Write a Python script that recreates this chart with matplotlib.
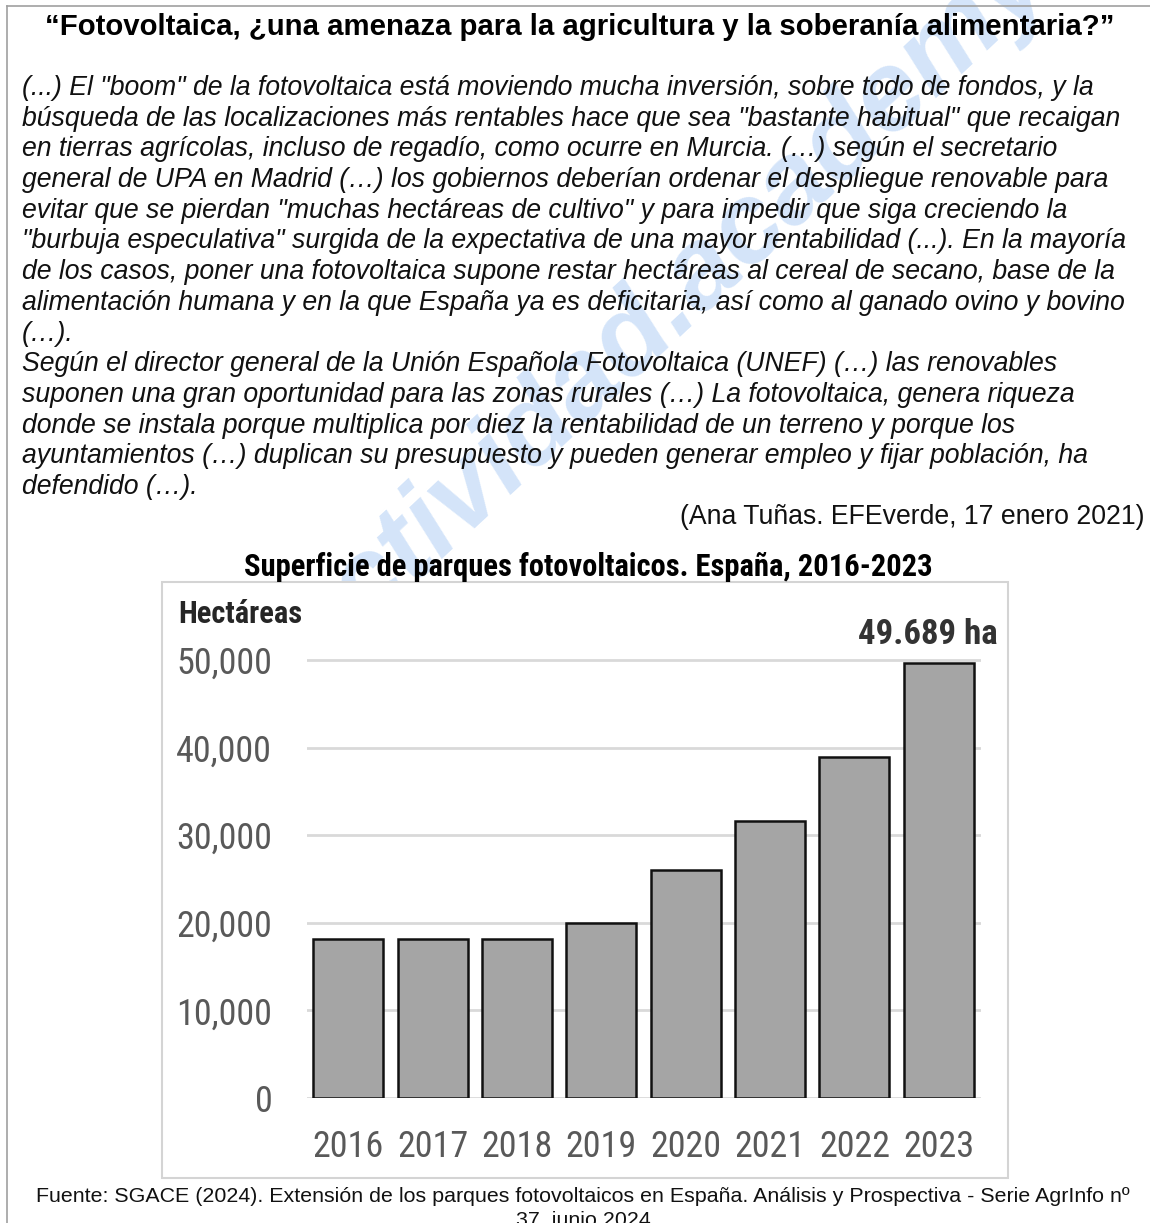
import matplotlib
matplotlib.use("Agg")
import matplotlib.pyplot as plt
from matplotlib import font_manager
from matplotlib.patches import Rectangle
from matplotlib.lines import Line2D

# chart data
years = ["2016", "2017", "2018", "2019", "2020", "2021", "2022", "2023"]
hectares = [18100, 18100, 18100, 20000, 26000, 31600, 38900, 49689]
y_ticks = [0, 10000, 20000, 30000, 40000, 50000]
y_tick_labels = ["0", "10,000", "20,000", "30,000", "40,000", "50,000"]

title = "\u201cFotovoltaica, \u00bfuna amenaza para la agricultura y la soberan\u00eda alimentaria?\u201d"
body_lines = [
    '(...) El "boom" de la fotovoltaica est\u00e1 moviendo mucha inversi\u00f3n, sobre todo de fondos, y la',
    'b\u00fasqueda de las localizaciones m\u00e1s rentables hace que sea "bastante habitual" que recaigan',
    'en tierras agr\u00edcolas, incluso de regad\u00edo, como ocurre en Murcia. (\u2026) seg\u00fan el secretario',
    'general de UPA en Madrid (\u2026) los gobiernos deber\u00edan ordenar el despliegue renovable para',
    'evitar que se pierdan "muchas hect\u00e1reas de cultivo" y para impedir que siga creciendo la',
    '"burbuja especulativa" surgida de la expectativa de una mayor rentabilidad (...). En la mayor\u00eda',
    'de los casos, poner una fotovoltaica supone restar hect\u00e1reas al cereal de secano, base de la',
    'alimentaci\u00f3n humana y en la que Espa\u00f1a ya es deficitaria, as\u00ed como al ganado ovino y bovino',
    '(\u2026).',
    'Seg\u00fan el director general de la Uni\u00f3n Espa\u00f1ola Fotovoltaica (UNEF) (\u2026) las renovables',
    'suponen una gran oportunidad para las zonas rurales (\u2026) La fotovoltaica, genera riqueza',
    'donde se instala porque multiplica por diez la rentabilidad de un terreno y porque los',
    'ayuntamientos (\u2026) duplican su presupuesto y pueden generar empleo y fijar poblaci\u00f3n, ha',
    'defendido (\u2026).',
]
citation = "(Ana Tu\u00f1as. EFEverde, 17 enero 2021)"
chart_title = "Superficie de parques fotovoltaicos. Espa\u00f1a, 2016-2023"
source_lines = [
    "Fuente: SGACE (2024). Extensi\u00f3n de los parques fotovoltaicos en Espa\u00f1a. An\u00e1lisis y Prospectiva - Serie AgrInfo n\u00ba",
    "37, junio 2024",
]

W, H = 1150, 1223
DPI = 100

fonts = font_manager.fontManager.ttflist
names = {f.name for f in fonts}
bold_names = {f.name for f in fonts if f.weight in (700, "bold")}
NARROW = "Liberation Sans"
for cand in ["Liberation Sans Narrow", "Archivo Narrow", "Roboto Condensed",
             "Fira Sans Extra Condensed", "Barlow Semi Condensed", "Asap Condensed"]:
    if cand in names and cand in bold_names:
        NARROW = cand
        break
SANS = "Liberation Sans" if "Liberation Sans" in names else "DejaVu Sans"


def fy(py):
    return 1 - py / H


def fx(px):
    return px / W


fig = plt.figure(figsize=(W / DPI, H / DPI), dpi=DPI)
fig.patch.set_facecolor("white")

# watermark, partly hidden behind the chart box
fig.text(fx(668), fy(308), "actividad.academy", ha="center", va="center",
         rotation=43, fontsize=81, fontweight="bold", style="italic",
         family=SANS, color="#3a86e6", alpha=0.22, zorder=0)

# page border (top and left)
fig.add_artist(Line2D([fx(7), 1], [fy(6), fy(6)], color="#a0a0a0", lw=1.2))
fig.add_artist(Line2D([fx(7), fx(7)], [fy(6), 0], color="#a0a0a0", lw=1.2))

fig.text(fx(580), fy(27), title, ha="center", va="center",
         fontsize=21.2, fontweight="bold", family=SANS)

for i, line in enumerate(body_lines):
    fig.text(fx(22), fy(88 + i * 30.7), line, ha="left", va="center",
             fontsize=19.2, style="italic", family=SANS, color="#111111")

fig.text(fx(1145), fy(517), citation, ha="right", va="center",
         fontsize=19.2, family=SANS, color="#111111")

fig.text(fx(588), fy(567), chart_title, ha="center", va="center",
         fontsize=22, fontweight="bold", family=NARROW)

# chart frame (opaque, covers the watermark)
fig.add_artist(Rectangle((fx(162), fy(1178)), fx(1008) - fx(162), fy(582) - fy(1178),
                         facecolor="white", edgecolor="#d4d4d4", lw=1.5, zorder=1))

ax = fig.add_axes([fx(307), fy(1098), fx(981) - fx(307), fy(642.5) - fy(1098)])
ax.set_zorder(2)
ax.patch.set_alpha(0)
ax.bar(range(len(years)), hectares, width=0.83, color="#a5a5a5",
       edgecolor="#111111", linewidth=1.8, zorder=3)
ax.set_xlim(-0.49, 7.5)
ax.set_ylim(0, 52000)
ax.set_yticks(y_ticks)
ax.set_yticklabels(y_tick_labels)
ax.set_xticks(range(len(years)))
ax.set_xticklabels(years)
ax.yaxis.grid(True, color="#d9d9d9", lw=2)
ax.set_axisbelow(True)
for s in ax.spines.values():
    s.set_visible(False)
ax.tick_params(length=0)
ax.tick_params(axis="y", pad=25, labelsize=26, labelcolor="#595959")
ax.tick_params(axis="x", pad=22, labelsize=26, labelcolor="#595959")
for lab in ax.get_xticklabels() + ax.get_yticklabels():
    lab.set_family(NARROW)

fig.text(fx(178), fy(614), "Hect\u00e1reas", ha="left", va="center",
         fontsize=22, fontweight="bold", family=NARROW, color="#262626", zorder=4)
ax.annotate(f"{hectares[-1]:,}".replace(",", ".") + " ha", xy=(len(years) - 1, hectares[-1]),
            xytext=(998, H - 634), textcoords="figure pixels",
            ha="right", va="center", fontsize=25, fontweight="bold",
            family=NARROW, color="#333333")

for i, line in enumerate(source_lines):
    fig.text(fx(583), fy(1196 + i * 24), line, ha="center", va="center",
             fontsize=15.4, family=SANS, color="#111111", zorder=4)

fig.savefig("out.png", dpi=DPI)
